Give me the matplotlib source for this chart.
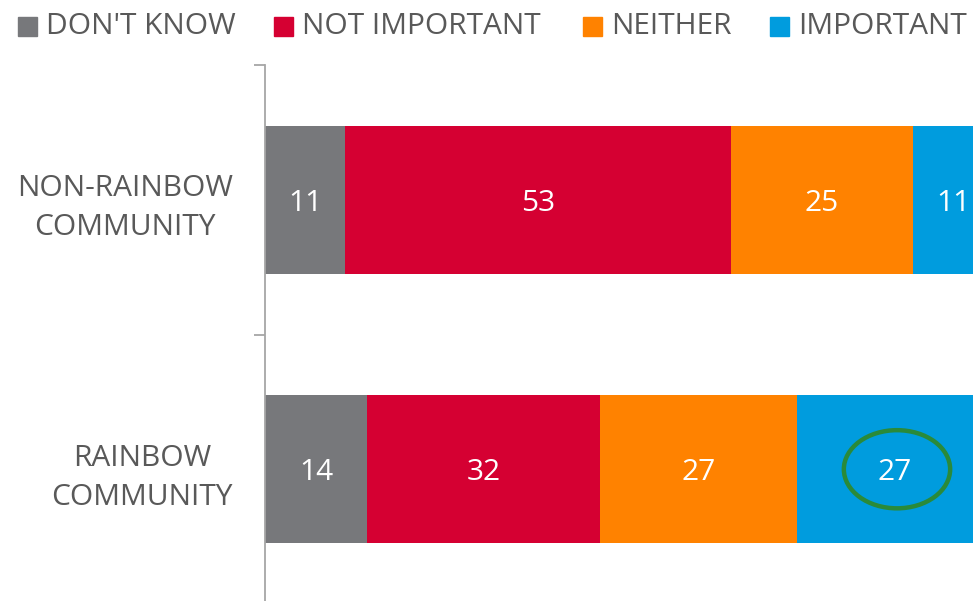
#!/usr/bin/env python3

import matplotlib
matplotlib.use('Agg')
import matplotlib.pyplot as plt
import numpy as np
from matplotlib.patches import Ellipse, Rectangle

categories = ['RAINBOW\nCOMMUNITY', 'NON-RAINBOW\nCOMMUNITY']
series_names = ["DON'T KNOW", 'NOT IMPORTANT', 'NEITHER', 'IMPORTANT']
dont_know = [14, 11]
not_important = [32, 53]
neither = [27, 25]
important = [27, 11]

colors = ['#77787B', '#D50032', '#FF8200', '#009CDE']
text_grey = '#595959'

plt.rcParams['font.family'] = ['Open Sans', 'DejaVu Sans']
fs = 21.5

fig = plt.figure(figsize=(9.73, 6.01), dpi=100)
W, H = 973.0, 601.0
ax = fig.add_axes([265 / W, -3 / H, 1 - 265 / W, 539 / H])

y = np.arange(len(categories))
left = np.zeros(len(categories))
for name, vals, c in zip(series_names, [dont_know, not_important, neither, important], colors):
    vals = np.array(vals)
    ax.barh(y, vals, left=left, height=0.548, color=c, edgecolor='none')
    for yi, l, v in zip(y, left, vals):
        ax.text(l + v / 2, yi, str(v), ha='center', va='center_baseline',
                color='white', fontsize=fs)
    left = left + vals

# highlight the IMPORTANT value for rainbow community
hl = 0
hx = dont_know[hl] + not_important[hl] + neither[hl] + important[hl] / 2
ax.add_patch(Ellipse((hx + 0.3, y[hl]), 14.6, 0.29, fill=False,
                     edgecolor='#2A8A3A', linewidth=3.2, zorder=5))

ax.set_xlim(0, 708 / 7.281)
ax.set_ylim(-0.5, 1.5)
ax.set_xticks([])
for s in ['top', 'right', 'bottom']:
    ax.spines[s].set_visible(False)
ax.spines['left'].set_color('#A6A6A6')
ax.spines['left'].set_linewidth(1.3)

ax.set_yticks([-0.5, 0.5, 1.5])
ax.set_yticklabels([])
ax.tick_params(axis='y', which='major', length=8, width=1.3, color='#A6A6A6')
ax.set_yticks(y, minor=True)
ax.set_yticklabels(categories, minor=True, fontsize=fs, color=text_grey)
ax.tick_params(axis='y', which='minor', length=0, pad=23)
for lbl in ax.get_yticklabels(minor=True):
    lbl.set_multialignment('center')
    lbl.set_linespacing(1.45)

# legend drawn along the top
legend_x = [18, 274, 583, 770]
for lx, name, c in zip(legend_x, series_names, colors):
    fig.patches.append(Rectangle((lx / W, 1 - 36 / H), 19 / W, 19 / H,
                                 transform=fig.transFigure, color=c))
    fig.text((lx + 28) / W, 1 - 26 / H, name, ha='left', va='center',
             fontsize=fs, color=text_grey)

fig.savefig('out.png', dpi=100)
